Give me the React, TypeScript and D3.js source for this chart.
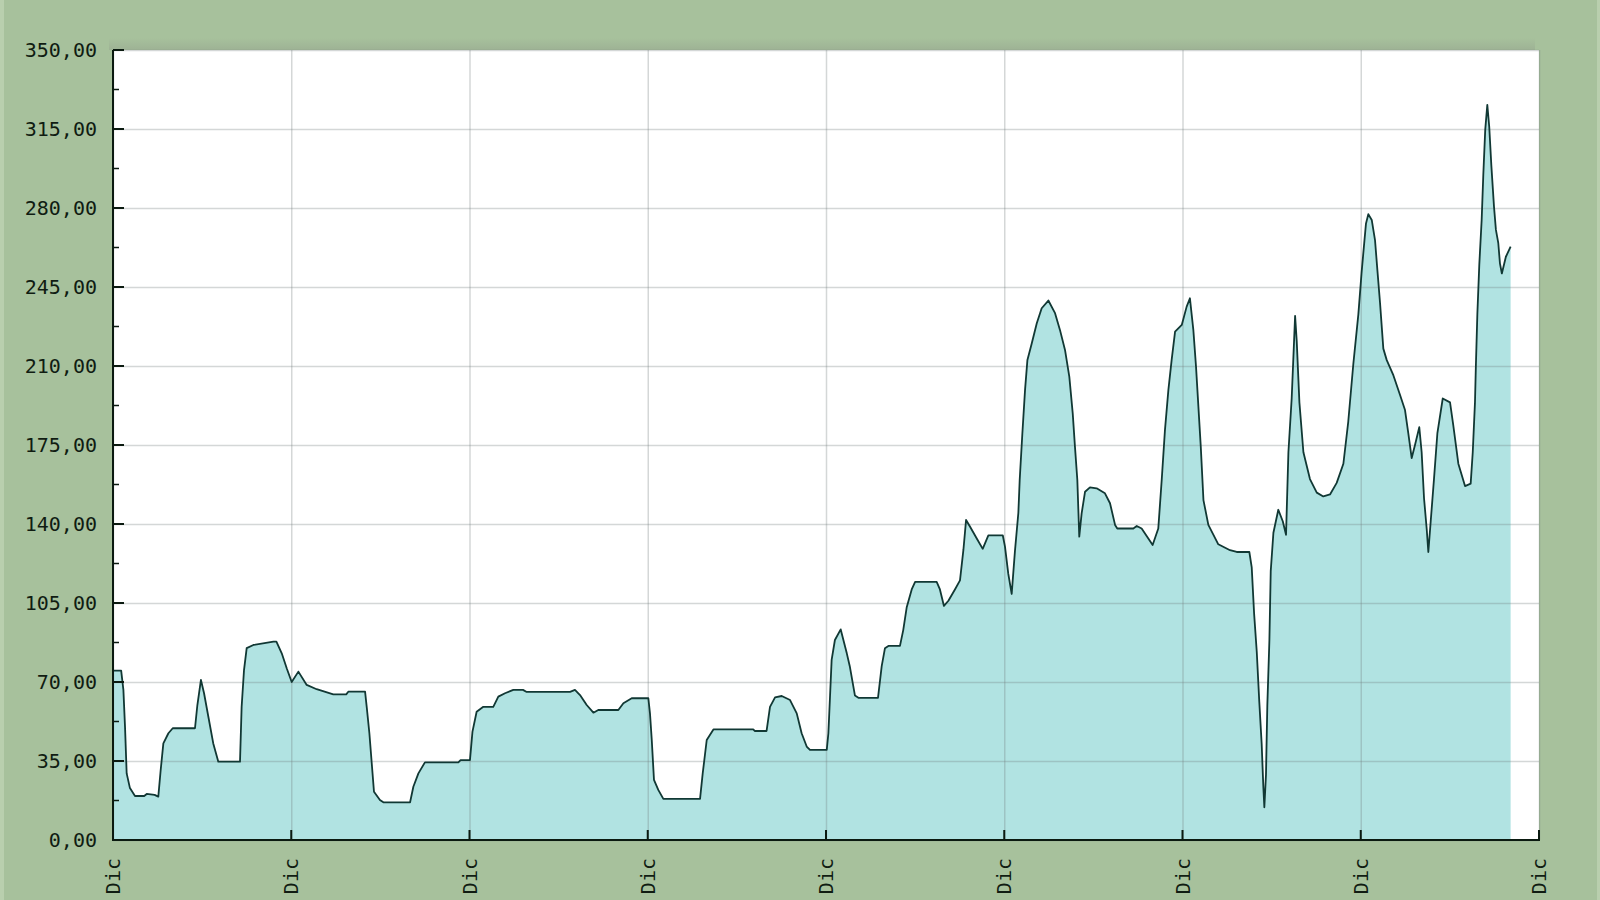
import React from 'react';
import * as d3 from 'd3';

// time in months from the first "Dic" tick, and the value read at that time
const months = [
  0, 0.55, 0.7, 0.81, 0.92, 1.14, 1.48, 2.1, 2.27, 2.8, 3.05, 3.21, 3.39, 3.73, 4.02, 5.52, 5.68, 5.92, 6.13, 6.42,
  6.75, 7.09, 8.55, 8.66, 8.82, 9.0, 9.45, 10.8, 11.0, 11.36, 11.7, 12.03, 12.48, 13.04, 13.71, 14.83, 15.7, 15.84, 16.97, 17.08,
  17.26, 17.42, 17.57, 17.97, 18.2, 20.0, 20.22, 20.56, 21.0, 23.25, 23.4, 24.03, 24.2, 24.48, 24.93, 25.6, 25.94, 26.39, 26.95, 27.6,
  27.85, 30.77, 31.1, 31.44, 31.89, 32.34, 32.67, 34.02, 34.36, 34.92, 36.04, 36.15, 36.27, 36.42, 36.71, 37.05, 39.52, 39.7, 39.97, 40.42,
  43.1, 43.2, 44.0, 44.23, 44.57, 45.02, 45.58, 46.03, 46.36, 46.7, 46.92, 48.05, 48.16, 48.27, 48.38, 48.6, 48.99, 49.4, 49.6, 49.95,
  50.18, 51.5, 51.75, 51.97, 52.2, 52.98, 53.2, 53.43, 53.77, 54.0, 55.45, 55.67, 55.94, 56.24, 56.68, 57.02, 57.25, 57.43, 57.7, 58.14,
  58.55, 58.93, 59.9, 60.05, 60.27, 60.5, 60.72, 60.95, 61.04, 61.22, 61.4, 61.56, 61.85, 62.19, 62.52, 62.97, 63.42, 63.75, 64.09, 64.38,
  64.61, 64.76, 64.92, 65.05, 65.21, 65.44, 65.77, 66.22, 66.78, 67.12, 67.46, 67.61, 68.69, 68.92, 69.25, 69.7, 69.99, 70.37, 70.6, 70.82,
  71.05, 71.27, 71.5, 71.95, 72.28, 72.5, 72.73, 72.91, 73.07, 73.23, 73.41, 73.74, 74.41, 75.2, 75.65, 76.5, 76.66, 76.82, 77.0, 77.17,
  77.33, 77.44, 77.51, 77.62, 77.71, 77.85, 77.94, 78.12, 78.45, 78.75, 78.97, 79.13, 79.35, 79.51, 79.58, 79.69, 79.87, 80.14, 80.58, 81.04,
  81.48, 81.93, 82.38, 82.83, 83.16, 83.5, 83.84, 84.06, 84.35, 84.51, 84.74, 84.96, 85.12, 85.3, 85.52, 85.75, 86.2, 86.64, 86.98, 87.2,
  87.43, 87.66, 87.94, 88.1, 88.26, 88.44, 88.55, 88.71, 88.93, 89.16, 89.52, 90.01, 90.23, 90.57, 91.02, 91.4, 91.54, 91.69, 91.75, 91.85,
  91.98, 92.14, 92.25, 92.38, 92.52, 92.65, 92.79, 92.97, 93.1, 93.26, 93.37, 93.5, 93.77, 94.09,
];

const prices = [
  75, 75, 66.5, 50, 29.5, 23, 19.5, 19.5, 20.4, 20, 19.2, 31, 42.8, 47.3, 49.5, 49.5, 59.8, 70.9, 65, 54.6,
  42.8, 34.7, 34.7, 59, 75.3, 85, 86.4, 87.9, 87.9, 82.7, 76, 70, 74.6, 68.7, 66.8, 64.5, 64.5, 65.7, 65.7, 59,
  47.3, 33.9, 21.4, 17.7, 16.7, 16.7, 23.6, 29.5, 34.4, 34.4, 35.4, 35.4, 48, 56.8, 59, 59, 63.5, 65, 66.5, 66.5,
  65.6, 65.6, 66.5, 64.2, 59.8, 56.4, 57.6, 57.6, 60.6, 62.8, 62.8, 56.1, 44.3, 26.6, 22.2, 18.2, 18.2, 29.5, 44.3, 49,
  49, 48.3, 48.3, 59, 63.2, 63.8, 62, 56.1, 47.3, 41.4, 39.9, 39.9, 47.3, 63.5, 79.8, 88.6, 93.3, 82.7, 77, 64,
  63, 63, 77, 85, 86, 86, 93, 103, 111, 114.4, 114.4, 111, 103.7, 106, 111, 115, 128.5, 141.8, 138.8, 133.7,
  129, 135, 135, 130, 118, 109, 128, 145, 159.5, 180.2, 199.4, 212.7, 220, 228.9, 235.6, 239, 233.4, 226, 217.1, 205.3,
  189, 174.3, 159.5, 134.4, 144.7, 154.3, 156.2, 155.8, 153.6, 149.2, 139.6, 138, 138, 139.1, 138, 133.6, 130.7, 138, 159.5, 181.7,
  199.4, 212.7, 225.2, 228.2, 236.3, 240, 226, 209.7, 192, 174.3, 150.6, 139.6, 131, 128.4, 127.6, 127.6, 120.8, 100.4, 83.3, 61.2,
  42.5, 23.8, 14.5, 28.9, 59.5, 88.5, 119.1, 136.1, 146.3, 141.2, 135.2, 171.8, 195.6, 221, 232.2, 221, 193.9, 171.8, 159.9, 153.9,
  152.2, 153.1, 158.2, 166.7, 185.4, 210.9, 233, 251.7, 273, 277.3, 274.7, 265.8, 252.5, 237.8, 217.7, 212.6, 205.8, 197.3, 190.5, 180.3,
  169.2, 175.2, 182.9, 171.8, 151.4, 137.8, 127.6, 141.2, 159.9, 180.3, 195.6, 193.9, 183.7, 166.7, 156.8, 157.9, 171.8, 193.9, 210, 233,
  254.8, 274.7, 294.6, 314.6, 325.7, 316, 299, 280.6, 270.3, 264.4, 255.5, 251, 258.4, 262.9,
];

const xTickMonths = [0, 12, 24, 36, 48, 60, 72, 84, 96];
const xTickLabels = ['Dic', 'Dic', 'Dic', 'Dic', 'Dic', 'Dic', 'Dic', 'Dic', 'Dic'];
const yMajor = [0, 35, 70, 105, 140, 175, 210, 245, 280, 315, 350];
const yMinor = [17.5, 52.5, 87.5, 122.5, 157.5, 192.5, 227.5, 262.5, 297.5, 332.5];

const W = 1600;
const H = 900;
const plot = { left: 113, right: 1539, top: 50, bottom: 840 };

const esFormat = d3.formatLocale({
  decimal: ',',
  thousands: '.',
  grouping: [3],
  currency: ['', ' €'],
}).format('.2f');

export default function App() {
  const x = d3.scaleLinear().domain([0, 96]).range([plot.left, plot.right]);
  const y = d3.scaleLinear().domain([0, 350]).range([plot.bottom, plot.top]);

  const pts = months.map((m, i) => [m, prices[i]] as [number, number]);
  const area = d3
    .area<[number, number]>()
    .x(d => x(d[0]))
    .y0(y(0))
    .y1(d => y(d[1]));
  const line = d3
    .line<[number, number]>()
    .x(d => x(d[0]))
    .y(d => y(d[1]));

  const font = '"DejaVu Sans Mono", "Liberation Mono", monospace';

  return (
    <div style={{ position: 'absolute', left: 0, top: 0, width: W, height: H }}>
      <svg width={W} height={H} style={{ display: 'block' }}>
        <defs>
          <linearGradient id="topShade" x1="0" y1="0" x2="0" y2="1">
            <stop offset="0%" stopColor="#8f9c8a" stopOpacity={0} />
            <stop offset="100%" stopColor="#8f9c8a" stopOpacity={0.4} />
          </linearGradient>
        </defs>
        <rect x={0} y={0} width={W} height={H} fill="#a7c19c" />
        <rect x={0} y={0} width={4} height={H} fill="#b9cfae" />
        <rect x={W - 3} y={0} width={3} height={H} fill="#b9cfae" />
        <rect x={plot.left - 4} y={plot.top - 12} width={plot.right - plot.left} height={12} fill="url(#topShade)" />

        {/* plot background */}
        <rect
          x={plot.left}
          y={plot.top}
          width={plot.right - plot.left}
          height={plot.bottom - plot.top}
          fill="#ffffff"
        />

        <path d={area(pts) || ''} fill="#b1e3e2" />

        {/* grid drawn over the fill, translucent so it darkens on the fill */}
        {yMajor.map(v => (
          <line
            key={'gy' + v}
            x1={plot.left}
            x2={plot.right}
            y1={y(v) + 0.5}
            y2={y(v) + 0.5}
            stroke="#6f7a7a"
            strokeOpacity={0.3}
            strokeWidth={1.5}
          />
        ))}
        {xTickMonths.map(m => (
          <line
            key={'gx' + m}
            x1={x(m) + 0.5}
            x2={x(m) + 0.5}
            y1={plot.top}
            y2={plot.bottom}
            stroke="#6f7a7a"
            strokeOpacity={0.3}
            strokeWidth={1.5}
          />
        ))}

        <path d={line(pts) || ''} fill="none" stroke="#113834" strokeWidth={1.8} strokeLinejoin="round" />

        {/* axes */}
        <line x1={plot.left} x2={plot.left} y1={plot.top} y2={plot.bottom + 1} stroke="#0b1a10" strokeWidth={2} />
        <line x1={plot.left - 1} x2={plot.right + 1} y1={plot.bottom} y2={plot.bottom} stroke="#0b1a10" strokeWidth={2} />
        {yMajor.map(v => (
          <line
            key={'ty' + v}
            x1={plot.left}
            x2={plot.left + 11}
            y1={y(v)}
            y2={y(v)}
            stroke="#0b1a10"
            strokeWidth={2}
          />
        ))}
        {yMinor.map(v => (
          <line
            key={'tm' + v}
            x1={plot.left}
            x2={plot.left + 6}
            y1={y(v)}
            y2={y(v)}
            stroke="#0b1a10"
            strokeWidth={1.5}
          />
        ))}
        {xTickMonths.map(m => (
          <line
            key={'tx' + m}
            x1={x(m)}
            x2={x(m)}
            y1={plot.bottom}
            y2={plot.bottom - 10}
            stroke="#0b1a10"
            strokeWidth={2}
          />
        ))}

        {/* labels */}
        {yMajor.map(v => (
          <text
            key={'ly' + v}
            x={97}
            y={y(v)}
            dy="0.36em"
            textAnchor="end"
            fontFamily={font}
            fontSize={20}
            fill="#101c12"
          >
            {esFormat(v)}
          </text>
        ))}
        {xTickMonths.map((m, i) => (
          <text
            key={'lx' + m}
            transform={`translate(${x(m)},${plot.bottom + 18}) rotate(-90)`}
            dy="0.36em"
            textAnchor="end"
            fontFamily={font}
            fontSize={20}
            fill="#101c12"
          >
            {xTickLabels[i]}
          </text>
        ))}
      </svg>
    </div>
  );
}
